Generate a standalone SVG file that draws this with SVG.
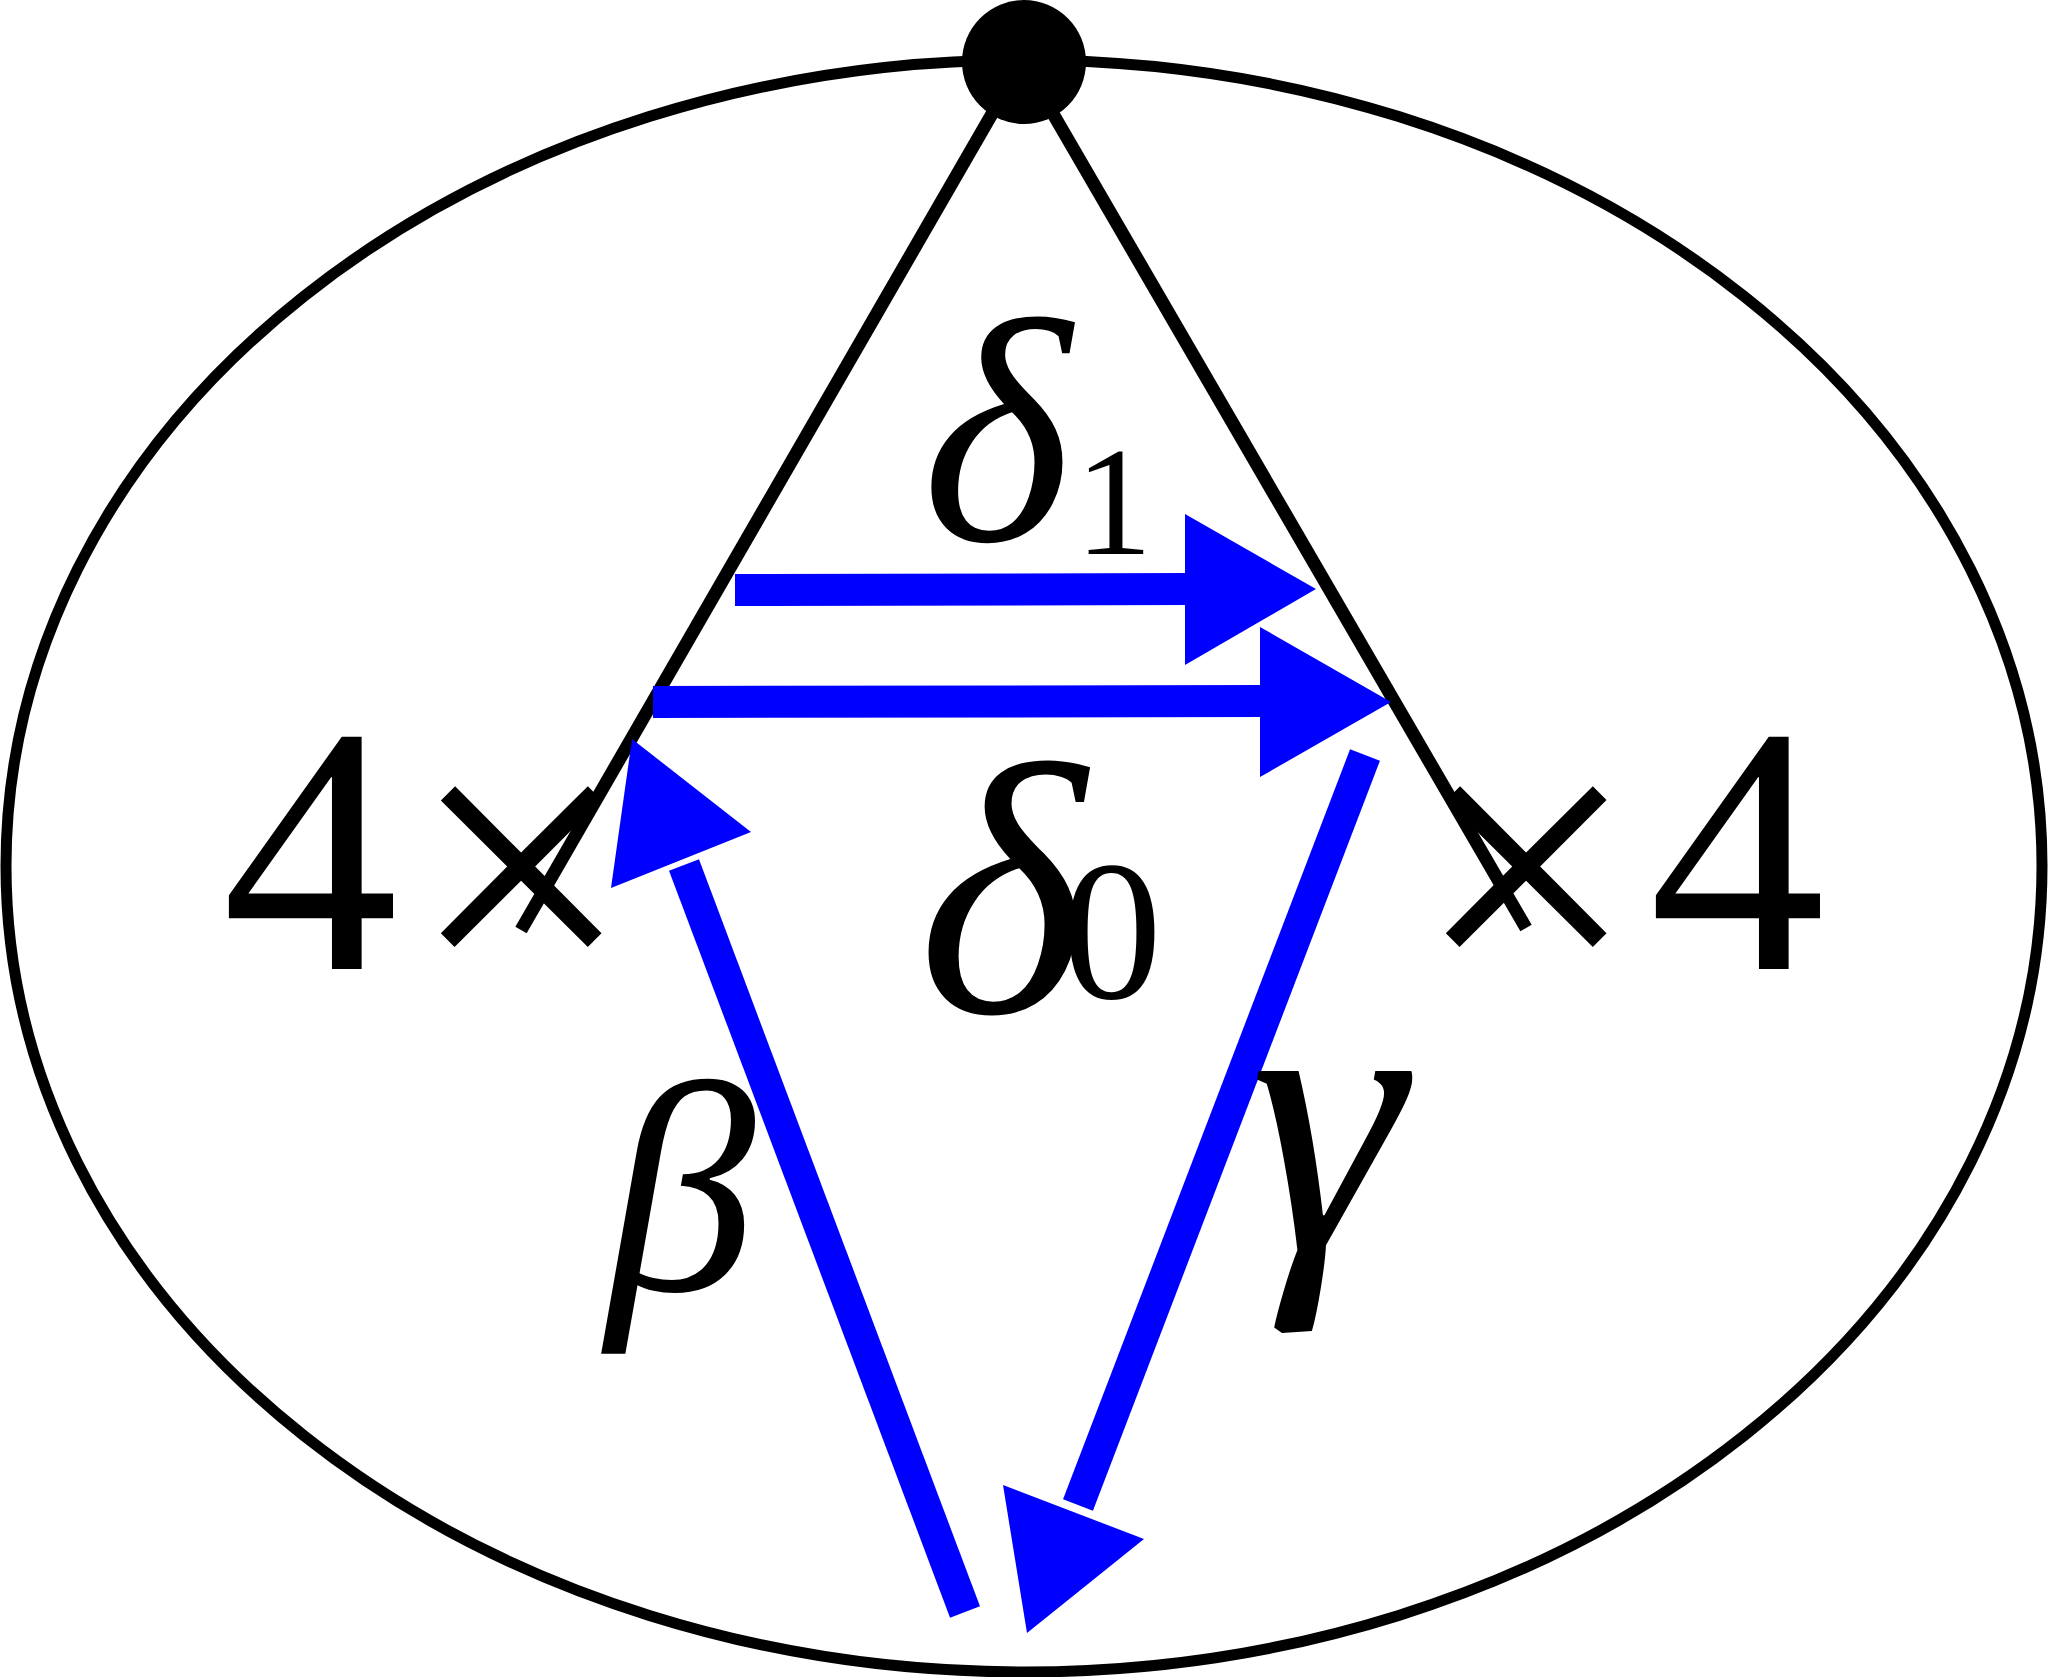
<svg xmlns="http://www.w3.org/2000/svg" width="2048" height="1677" viewBox="0 0 2048 1677">
<style>
.m{font-family:"Liberation Serif","DejaVu Serif",serif;fill:#000}
.i{font-style:italic}
.b{fill:#0000ff}
.bs{stroke:#0000ff;stroke-width:32;fill:none}
</style>
<rect width="2048" height="1677" fill="#fff"/>
<g id="ellipse"><ellipse cx="1024" cy="866" rx="1018" ry="806" fill="none" stroke="#000" stroke-width="11"/></g>
<g id="connectors">
<line x1="1000" y1="100" x2="521" y2="930" stroke="#000" stroke-width="13"/>
<line x1="1045" y1="100" x2="1526" y2="928" stroke="#000" stroke-width="13"/>
<line class="bs" x1="735" y1="590" x2="1190" y2="589"/>
<polygon class="b" points="1185,514 1316,589 1185,665"/>
<line class="bs" x1="653" y1="702" x2="1265" y2="701"/>
<polygon class="b" points="1260,627 1391,702 1260,777"/>
<line class="bs" x1="965" y1="1612" x2="684" y2="865"/>
<polygon class="b" points="632,739 751,832 611,888"/>
<line class="bs" x1="1365" y1="755" x2="1078" y2="1505"/>
<polygon class="b" points="1003,1485 1144,1539 1027,1633"/>
</g>
<g id="top-node"><circle cx="1024" cy="62" r="62" fill="#000"/></g>
<g id="left"><text class="m" x="222" y="969" font-size="353">4</text><text class="m" x="521" y="998" font-size="395" text-anchor="middle">×</text></g>
<g id="right"><text class="m" x="1526" y="998" font-size="395" text-anchor="middle">×</text><text class="m" x="1649" y="969" font-size="353">4</text></g>
<g id="labels">
<text class="m i" x="922" y="540" font-size="320">δ</text><text class="m" x="1075" y="554" font-size="155">1</text>
<text class="m i" x="918" y="1012" font-size="360">δ</text><text class="m" x="1062" y="998" font-size="200">0</text>
<text class="m i" x="606" y="1290" font-size="300">β</text>
<text class="m i" x="1250" y="1250" font-size="390">γ</text>
</g>
</svg>
